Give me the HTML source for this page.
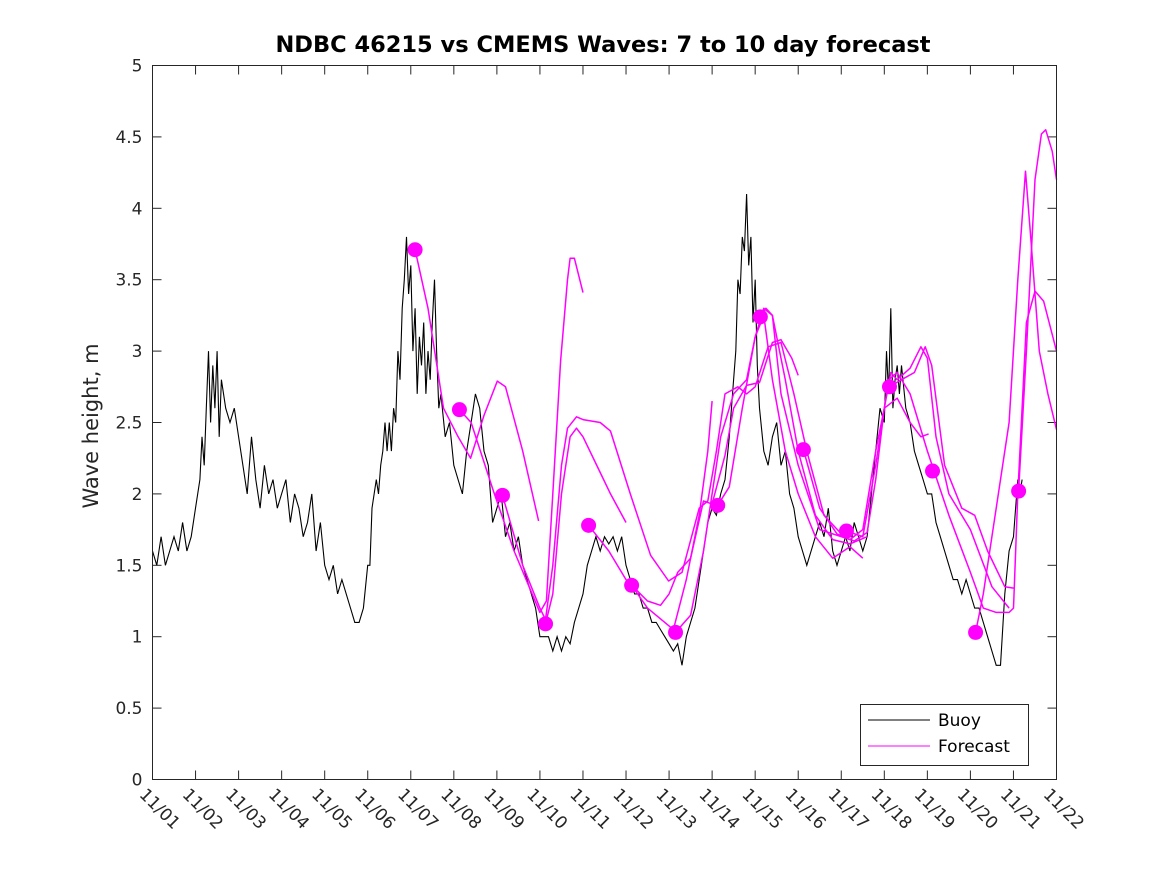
<!DOCTYPE html>
<html><head><meta charset="utf-8"><style>
body{margin:0;background:#fff;}
svg{display:block;font-family:"DejaVu Sans","Liberation Sans",sans-serif;}
</style></head><body>
<svg id="chart" width="1167" height="875" viewBox="0 0 1167 875" xmlns="http://www.w3.org/2000/svg">
<rect width="1167" height="875" fill="#fff"/>
<text x="603" y="52" text-anchor="middle" font-size="22.5" font-weight="bold" fill="#000">NDBC 46215 vs CMEMS Waves: 7 to 10 day forecast</text>
<text transform="translate(98,426) rotate(-90)" text-anchor="middle" font-size="21" fill="#262626">Wave height, m</text>
<g id="grid"></g>
<g id="series"></g>
<rect x="152.5" y="65.5" width="904" height="714" fill="none" stroke="#262626" stroke-width="1"/>
<g>
<rect x="860.5" y="704.5" width="168" height="61" fill="#fff" stroke="#262626"/>
<line x1="868" y1="720" x2="930" y2="720" stroke="#000" stroke-width="1"/>
<text x="938" y="726" font-size="17" fill="#000">Buoy</text>
<line x1="868" y1="746" x2="930" y2="746" stroke="#ff00ff" stroke-width="1"/>
<text x="938" y="752" font-size="17" fill="#000">Forecast</text>
</g>
</svg>
<script>
const yTicks = [0,0.5,1,1.5,2,2.5,3,3.5,4,4.5,5];
const yTickLabels = ["0","0.5","1","1.5","2","2.5","3","3.5","4","4.5","5"];
const xTickLabels = ["11/01","11/02","11/03","11/04","11/05","11/06","11/07","11/08","11/09","11/10","11/11","11/12","11/13","11/14","11/15","11/16","11/17","11/18","11/19","11/20","11/21","11/22"];
const buoyDays = [0,0.1,0.2,0.3,0.4,0.5,0.6,0.7,0.8,0.9,1.0,1.1,1.15,1.2,1.25,1.3,1.35,1.4,1.45,1.5,1.55,1.6,1.7,1.8,1.9,2.0,2.1,2.2,2.3,2.4,2.5,2.6,2.7,2.8,2.9,3.0,3.1,3.2,3.3,3.4,3.5,3.6,3.7,3.8,3.9,
4.0,4.1,4.2,4.3,4.4,4.5,4.6,4.7,4.8,4.9,5.0,5.05,5.1,5.2,5.25,5.3,5.35,5.4,5.45,5.5,5.55,5.6,5.65,5.7,5.75,5.8,5.85,5.9,5.95,6.0,6.05,6.1,6.15,6.2,6.25,6.3,6.35,6.4,6.45,6.5,6.55,6.6,6.65,6.7,6.8,6.9,7.0,7.1,7.2,7.3,7.4,7.5,7.6,7.7,7.8,7.9,8.0,8.1,8.2,8.3,8.4,8.5,8.6,8.7,8.8,8.9,9.0,9.1,9.2,9.3,9.4,9.5,9.6,9.7,9.8,9.9,10.0,10.1,10.2,10.3,10.4,10.5,10.6,10.7,10.8,10.9,11.0,11.1,11.2,11.3,11.4,11.5,11.6,11.7,11.8,11.9,12.0,12.1,12.2,12.3,12.4,12.5,12.6,12.7,12.8,12.9,13.0,13.1,13.2,13.3,13.4,13.5,
13.55,13.6,13.65,13.7,13.75,13.8,13.85,13.9,13.95,14.0,14.05,14.1,14.2,14.3,14.4,14.5,14.6,14.7,14.8,14.9,15.0,15.1,15.2,15.3,15.4,15.5,15.6,15.7,15.8,15.9,16.0,16.1,16.2,16.3,16.4,16.5,16.6,16.7,16.8,16.9,17.0,17.05,17.1,17.15,17.2,17.25,17.3,17.35,17.4,17.5,17.6,17.7,17.8,17.9,18.0,18.1,18.2,18.3,18.4,18.5,18.6,18.7,18.8,18.9,19.0,19.1,19.2,19.3,19.4,19.5,19.6,19.7,19.8,19.9,20.0,20.05,20.1,20.15,20.2,20.25,20.3,20.35];
const buoyValues = [1.6,1.5,1.7,1.5,1.6,1.7,1.6,1.8,1.6,1.7,1.9,2.1,2.4,2.2,2.6,3.0,2.5,2.9,2.6,3.0,2.4,2.8,2.6,2.5,2.6,2.4,2.2,2.0,2.4,2.1,1.9,2.2,2.0,2.1,1.9,2.0,2.1,1.8,2.0,1.9,1.7,1.8,2.0,1.6,1.8,
1.5,1.4,1.5,1.3,1.4,1.3,1.2,1.1,1.1,1.2,1.5,1.5,1.9,2.1,2.0,2.2,2.3,2.5,2.3,2.5,2.3,2.6,2.5,3.0,2.8,3.3,3.5,3.8,3.4,3.6,3.0,3.3,2.7,3.1,2.9,3.2,2.7,3.0,2.8,3.2,3.5,3.0,2.6,2.7,2.4,2.5,2.2,2.1,2.0,2.3,2.5,2.7,2.6,2.3,2.2,1.8,1.9,2.0,1.7,1.8,1.6,1.7,1.5,1.4,1.3,1.2,1.0,1.0,1.0,0.9,1.0,0.9,1.0,0.95,1.1,1.2,1.3,1.5,1.6,1.7,1.6,1.7,1.65,1.7,1.6,1.7,1.5,1.4,1.3,1.3,1.2,1.2,1.1,1.1,1.05,1.0,0.95,0.9,0.95,0.8,1.0,1.1,1.2,1.4,1.6,1.8,1.9,1.85,2.0,2.1,2.4,2.8,
3.0,3.5,3.4,3.8,3.7,4.1,3.6,3.8,3.2,3.5,2.9,2.6,2.3,2.2,2.4,2.5,2.2,2.3,2.0,1.9,1.7,1.6,1.5,1.6,1.7,1.8,1.7,1.9,1.6,1.5,1.6,1.7,1.6,1.8,1.7,1.6,1.7,2.0,2.3,2.6,2.5,3.0,2.7,3.3,2.6,2.8,2.9,2.7,2.9,2.6,2.5,2.3,2.2,2.1,2.0,2.0,1.8,1.7,1.6,1.5,1.4,1.4,1.3,1.4,1.3,1.2,1.2,1.1,1.0,0.9,0.8,0.8,1.3,1.6,1.7,1.9,2.1,2.0,2.1];
const dotDays = [6.1,7.13,8.13,9.13,10.13,11.13,12.15,13.13,14.12,15.12,16.12,17.12,18.12,19.12,20.12];
const dotValues = [3.71,2.59,1.99,1.09,1.78,1.36,1.03,1.92,3.24,2.31,1.74,2.75,2.16,1.03,2.02];
const fc1Days = [6.1,6.4,6.76,7.1,7.39,7.7,8.01,8.2,8.6,8.97];
const fc1Values = [3.71,3.3,2.6,2.4,2.25,2.55,2.79,2.75,2.3,1.81];
const fc2Days = [7.13,7.4,7.92,8.4,9.0,9.15,9.3,9.48,9.64,9.7,9.8,10.0];
const fc2Values = [2.59,2.5,2.02,1.6,1.17,1.25,2.0,2.93,3.5,3.65,3.65,3.41];
const fc3Days = [8.13,8.6,9.0,9.13,9.3,9.5,9.64,9.85,10.0,10.4,10.64,11.1,11.57,11.99,12.3,12.7,12.9,13.1,13.3,13.6,13.8,14.0,14.3,14.6,14.9,15.2,15.6,16.0];
const fc3Values = [1.99,1.5,1.2,1.12,1.5,2.2,2.46,2.54,2.52,2.5,2.44,2.0,1.57,1.39,1.45,1.9,1.95,2.3,2.7,2.75,2.7,2.75,3.03,3.06,2.7,2.3,1.85,1.72];
const fc4Days = [9.13,9.3,9.5,9.7,9.85,10.0,10.4,10.64,11.0];
const fc4Values = [1.09,1.3,2.0,2.4,2.46,2.4,2.15,2.0,1.8];
const fc5Days = [10.13,10.6,11.0,11.5,11.8,12.0,12.2,12.5,12.8,13.0,13.3,13.5,13.8,14.1,14.4,14.6,14.85,15.0];
const fc5Values = [1.78,1.6,1.4,1.25,1.22,1.3,1.45,1.55,1.95,1.93,2.27,2.6,2.76,2.78,3.06,3.08,2.95,2.83];
const fc6Days = [11.13,11.5,11.9,12.1,12.4,12.7,12.9,13.0];
const fc6Values = [1.36,1.2,1.1,1.05,1.4,1.85,2.3,2.65];
const fc7Days = [12.15,12.5,12.8,13.0,13.2,13.5,13.8,14.0,14.2,14.4,14.7,15.0,15.4,15.8,16.2,16.6];
const fc7Values = [1.03,1.15,1.6,2.0,2.4,2.7,2.8,3.1,3.3,3.25,2.8,2.3,1.85,1.68,1.65,1.7];
const fc8Days = [13.13,13.4,13.7,14.0,14.2,14.4,14.7,15.0,15.4,15.8,16.2,16.5];
const fc8Values = [1.92,2.05,2.6,3.1,3.25,2.8,2.3,2.0,1.7,1.55,1.63,1.55];
const fc9Days = [14.12,14.25,14.4,14.6,15.0,15.5,16.0,16.3,16.6,16.8,17.0,17.15,17.3,17.6,17.85,18.0,18.2,18.5,19.0,19.5,19.9];
const fc9Values = [3.24,3.3,3.25,2.7,2.2,1.75,1.7,1.67,1.73,2.1,2.6,2.85,2.8,2.88,3.03,2.95,2.4,2.0,1.75,1.35,1.2];
const fc10Days = [15.12,15.5,15.9,16.2,16.5,16.8,17.0,17.3,17.6,17.85,18.03];
const fc10Values = [2.31,1.9,1.72,1.68,1.75,2.3,2.6,2.67,2.5,2.4,2.42];
const fc11Days = [16.12,16.5,16.8,17.1,17.3,17.6,18.0,18.5,19.0,19.3,19.6,19.9,20.0,20.1,20.3,20.5,20.7,21.0];
const fc11Values = [1.74,1.7,2.2,2.8,2.85,2.7,2.3,1.85,1.45,1.2,1.17,1.17,1.2,2.0,3.2,3.42,3.35,3.0];
const fc12Days = [17.12,17.4,17.7,17.95,18.1,18.4,18.8,19.1,19.4,19.8,20.0];
const fc12Values = [2.75,2.8,2.85,3.03,2.9,2.2,1.9,1.85,1.6,1.35,1.34];
const fc13Days = [19.12,19.3,19.6,19.9,20.1,20.28,20.4,20.6,20.8,21.0];
const fc13Values = [1.03,1.3,1.9,2.5,3.5,4.26,3.8,3.0,2.7,2.45];
const fc14Days = [20.12,20.3,20.5,20.65,20.75,20.9,21.0];
const fc14Values = [2.02,3.0,4.2,4.52,4.55,4.4,4.2];

const X0=152.5, X1=1056.5, Y0=779.5, Y1=65.5;
function xs(d){return X0+(X1-X0)*d/21;}
function ys(v){return Y0-(Y0-Y1)*v/5;}
const NS="http://www.w3.org/2000/svg";
const grid=document.getElementById('grid'), ser=document.getElementById('series');
function mk(tag,attrs,parent){const e=document.createElementNS(NS,tag);for(const k in attrs)e.setAttribute(k,attrs[k]);parent.appendChild(e);return e;}

yTicks.forEach((v,i)=>{
  const y=ys(v);
  const t1=mk('line',{x1:X0,x2:X0+9,y1:y,y2:y,stroke:'#262626'},grid);
  
  
  const t2=mk('line',{x1:X1-9,x2:X1,y1:y,y2:y,stroke:'#262626'},grid);
  
  
  const l=mk('text',{x:X0-10,y:y+6,'text-anchor':'end','font-size':17,fill:'#262626'},grid);
  l.textContent=yTickLabels[i];
  
  
});
xTickLabels.forEach((s,i)=>{
  const x=xs(i);
  const t1=mk('line',{x1:x,x2:x,y1:Y0,y2:Y0-9,stroke:'#262626'},grid);
  
  
  const t2=mk('line',{x1:x,x2:x,y1:Y1,y2:Y1+9,stroke:'#262626'},grid);
  
  
  const l=mk('text',{transform:`translate(${x-14},${Y0+16}) rotate(45)`,'font-size':17,fill:'#262626'},grid);
  l.textContent=s;
  
  
});

function pts(ds,vs){return ds.map((d,i)=>xs(d).toFixed(1)+','+ys(vs[i]).toFixed(1)).join(' ');}
const buoy=mk('polyline',{points:pts(buoyDays,buoyValues),fill:'none',stroke:'#000','stroke-width':1.1},ser);



const fcs=[[fc1Days,fc1Values],[fc2Days,fc2Values],[fc3Days,fc3Values],[fc4Days,fc4Values],[fc5Days,fc5Values],[fc6Days,fc6Values],[fc7Days,fc7Values],[fc8Days,fc8Values],[fc9Days,fc9Values],[fc10Days,fc10Values],[fc11Days,fc11Values],[fc12Days,fc12Values],[fc13Days,fc13Values],[fc14Days,fc14Values]];
fcs.forEach(([d,v])=>{
  const p=mk('polyline',{points:pts(d,v),fill:'none',stroke:'#ff00ff','stroke-width':1.5,'stroke-linejoin':'round'},ser);
  
  
});
dotDays.forEach((d,i)=>{
  const c=mk('circle',{cx:xs(d),cy:ys(dotValues[i]),r:7.5,fill:'#ff00ff'},ser);
  
  
});
</script>
</body></html>
